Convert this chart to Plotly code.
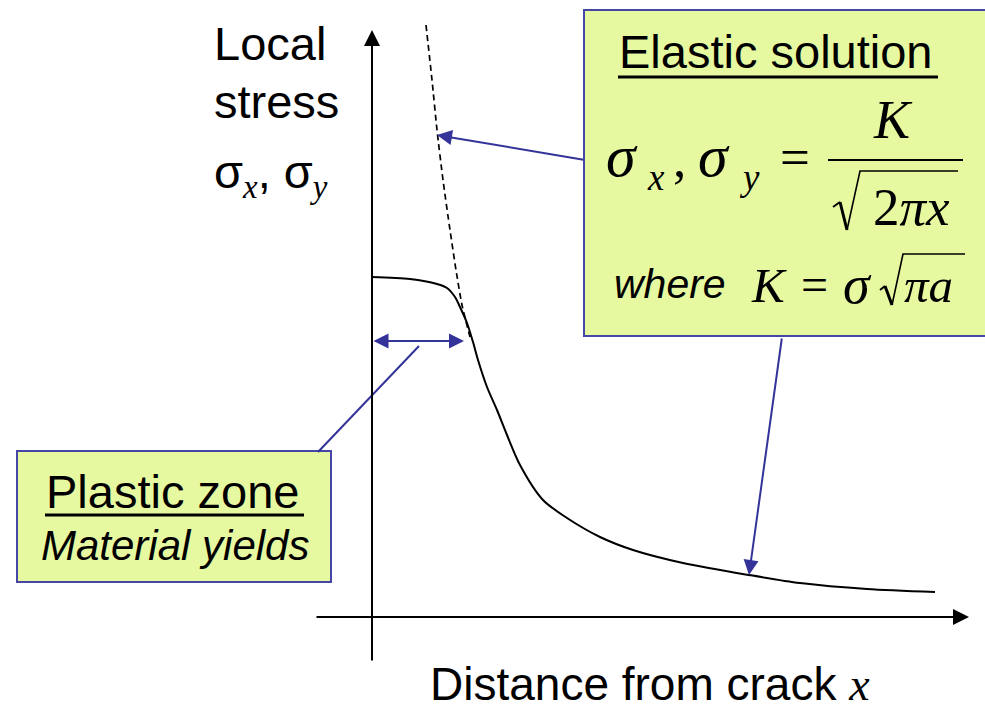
import plotly.graph_objects as go

# ---------------- data (diagram units, origin at the axis crossing) ----------------
# actual local stress (solid curve)
solid_x = [0.00, 0.38, 0.65, 0.75, 0.83, 0.88, 0.95, 1.01, 1.06, 1.15, 1.25, 1.35,
           1.48, 1.71, 1.95, 2.28, 2.61, 3.11, 3.77, 4.28, 4.95, 5.63]
solid_y = [3.40, 3.38, 3.33, 3.29, 3.20, 3.10, 2.94, 2.75, 2.57, 2.30, 2.07, 1.82,
           1.52, 1.17, 0.99, 0.80, 0.67, 0.54, 0.42, 0.34, 0.28, 0.25]
# elastic solution near the crack tip (dashed curve)
dash_x = [0.54, 0.60, 0.65, 0.71, 0.78, 0.84, 0.90, 0.98]
dash_y = [5.92, 5.37, 4.87, 4.37, 3.87, 3.47, 3.12, 2.80]

# ---------------- layout helpers ----------------
W, H = 985, 712
OX, OY, S = 372, 617, 100.0          # axis crossing in page pixels, px per unit


def X(px):
    return (px - OX) / S


def Y(py):
    return (OY - py) / S


SANS = "Liberation Sans, Arial, sans-serif"
SERIF = "Liberation Serif, Times New Roman, serif"
FILL = "#E6F9A0"
BORDER = "#4646A6"
BLUE = "#333399"


def text(s, left, base, size, family=SANS, anchor="left"):
    off = 0.3465 if family == SANS else 0.3375
    return dict(x=X(left), y=Y(base - off * size), xref="x", yref="y", text=s,
                showarrow=False, xanchor=anchor, yanchor="middle",
                font=dict(family=family, size=size, color="black"),
                borderpad=0, borderwidth=0)


def arrow(tail, head, color, width, size, both=False):
    return dict(x=X(head[0]), y=Y(head[1]), ax=X(tail[0]), ay=Y(tail[1]),
                xref="x", yref="y", axref="x", ayref="y", text="",
                showarrow=True, arrowhead=2, arrowsize=size, arrowwidth=width,
                arrowcolor=color, arrowside="end+start" if both else "end",
                startarrowhead=2, startarrowsize=size, standoff=0, startstandoff=0)


def line(p0, p1, color, width):
    return dict(type="line", xref="x", yref="y", x0=X(p0[0]), y0=Y(p0[1]),
                x1=X(p1[0]), y1=Y(p1[1]), line=dict(color=color, width=width))


def path(points, color, width):
    d = "M " + " L ".join(f"{X(a):.4f},{Y(b):.4f}" for a, b in points)
    return dict(type="path", xref="x", yref="y", path=d,
                line=dict(color=color, width=width))


def rect(x0, y0, x1, y1):
    return dict(type="rect", xref="x", yref="y", x0=X(x0), y0=Y(y1), x1=X(x1), y1=Y(y0),
                fillcolor=FILL, line=dict(color=BORDER, width=2), layer="below")


fig = go.Figure()
fig.add_trace(go.Scatter(x=solid_x, y=solid_y, mode="lines", hoverinfo="skip",
                         line=dict(color="black", width=2, shape="spline", smoothing=0.8)))
fig.add_trace(go.Scatter(x=dash_x, y=dash_y, mode="lines", hoverinfo="skip",
                         line=dict(color="black", width=1.7, dash="6px,4px",
                                   shape="spline", smoothing=0.6)))

shapes = [
    rect(584, 10, 992, 336),                 # elastic solution box
    rect(17, 451, 331, 582),                 # plastic zone box
    line((618, 77), (938, 77), "black", 3),  # underline Elastic solution
    line((45, 515), (304, 515), "black", 3), # underline Plastic zone
    line((828, 160), (963, 160), "black", 2),  # fraction bar
    # radical signs
    path([(833, 207), (840, 202)], "black", 2),
    path([(840, 202), (847, 230)], "black", 3),
    path([(847, 230), (860, 171), (958, 171)], "black", 1.6),
    path([(880, 290), (885, 286)], "black", 2),
    path([(885, 286), (892, 305)], "black", 3),
    path([(892, 305), (903, 254), (965, 254)], "black", 1.6),
    line((318, 452), (419, 346), BLUE, 2),   # leader from plastic zone box
]

ann = [
    # axes
    arrow((OX, 662), (OX, 30), "black", 2, 1.6),
    arrow((315, OY), (969, OY), "black", 2, 1.6),
    # blue arrows
    arrow((585, 160), (437, 135), BLUE, 2, 1.5),
    arrow((782, 337), (749, 575), BLUE, 2, 1.5),
    arrow((372, 341), (464, 341), BLUE, 2, 1.5, both=True),
    # axis titles
    text("Local", 214, 60, 47),
    text("stress", 214, 118, 47),
    text("σ<sub><span style='font-family:Liberation Serif'><i>x</i></span></sub>, "
         "σ<sub><span style='font-family:Liberation Serif'><i>y</i></span></sub>", 214, 191, 47),
    text("Distance from crack <span style='font-family:Liberation Serif'><i>x</i></span>",
         430, 700, 46),
    # elastic box
    text("Elastic solution", 619, 68, 47),
    text("<i>σ</i>", 606, 176, 60, SERIF),
    text("<i>x</i>", 647, 190, 37, SERIF),
    text(",", 673, 176, 53, SERIF),
    text("<i>σ</i>", 698, 176, 60, SERIF),
    text("<i>y</i>", 739, 190, 37, SERIF),
    text("=", 780, 175, 53, SERIF),
    text("<i>K</i>", 893, 138, 54, SERIF, anchor="center"),
    text("2<i>πx</i>", 873, 225, 53, SERIF),
    text("<i>where</i>", 614, 298, 41),
    text("<i>K</i>", 751, 302, 49, SERIF),
    text("=", 801, 301, 48, SERIF),
    text("<i>σ</i>", 843, 303, 54, SERIF),
    text("<i>πa</i>", 904, 302, 49, SERIF),
    # plastic box
    text("Plastic zone", 46, 508, 47),
    text("<i>Material yields</i>", 41, 560, 42),
]

fig.update_layout(
    width=W, height=H, autosize=False,
    margin=dict(l=0, r=0, t=0, b=0),
    paper_bgcolor="white", plot_bgcolor="white",
    showlegend=False,
    xaxis=dict(range=[X(0), X(W)], visible=False, fixedrange=True),
    yaxis=dict(range=[Y(H), Y(0)], visible=False, fixedrange=True),
    shapes=shapes, annotations=ann,
)

fig.write_html("out.html", config={"displayModeBar": False},
               post_script="document.body.style.margin='0px';"
                           "document.body.style.overflow='hidden';")
